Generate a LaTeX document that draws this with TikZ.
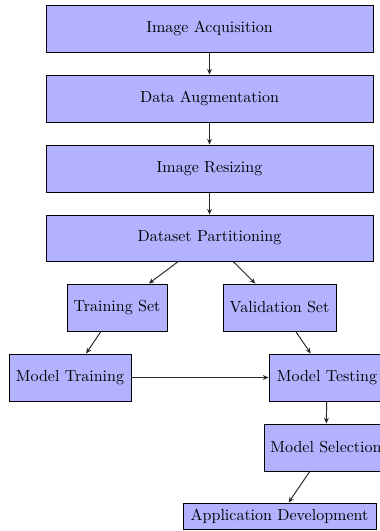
\documentclass[tikz,border=0pt]{standalone}
\usetikzlibrary{arrows.meta}
\begin{document}
\begin{tikzpicture}[x=0.625pt,y=-0.625pt,
  box/.style={draw=black,fill=blue!30,line width=0.6pt,inner sep=0pt,align=center,font=\normalsize},
  conn/.style={draw=black!85,line width=0.6pt,-{Stealth[length=3.5pt,width=3pt]}}]
\useasboundingbox (0,0) rectangle (380,531);
\clip (0,0) rectangle (380,531);
\node[box,minimum width=327*0.625pt,minimum height=47*0.625pt] (ia) at (209.5,28.5) {Image Acquisition};
\node[box,minimum width=327*0.625pt,minimum height=47*0.625pt] (da) at (209.5,98.5) {Data Augmentation};
\node[box,minimum width=327*0.625pt,minimum height=47*0.625pt] (ir) at (209.5,168.5) {Image Resizing};
\node[box,minimum width=327*0.625pt,minimum height=46*0.625pt] (dp) at (209.5,238) {Dataset Partitioning};
\node[box,minimum width=100*0.625pt,minimum height=47*0.625pt] (ts) at (117,307.5) {Training Set};
\node[box,minimum width=113*0.625pt,minimum height=47*0.625pt] (vs) at (279.5,307.5) {Validation Set};
\node[box,minimum width=122*0.625pt,minimum height=47*0.625pt] (mtr) at (70,377.5) {Model Training};
\node[box,minimum width=116*0.625pt,minimum height=47*0.625pt] (mte) at (327,377.5) {Model Testing};
\node[box,minimum width=124*0.625pt,minimum height=47*0.625pt] (ms) at (326,447.5) {Model Selection};
\node[box,minimum width=193*0.625pt,minimum height=26*0.625pt] (ad) at (279.5,516) {Application Development};
\draw[conn] (ia) -- (da);
\draw[conn] (da) -- (ir);
\draw[conn] (ir) -- (dp);
\draw[conn] (dp) -- (ts);
\draw[conn] (dp) -- (vs);
\draw[conn] (ts) -- (mtr);
\draw[conn] (vs) -- (mte);
\draw[conn] (mtr) -- (mte);
\draw[conn] (mte) -- (ms);
\draw[conn] (ms) -- (ad);
\end{tikzpicture}
\end{document}
